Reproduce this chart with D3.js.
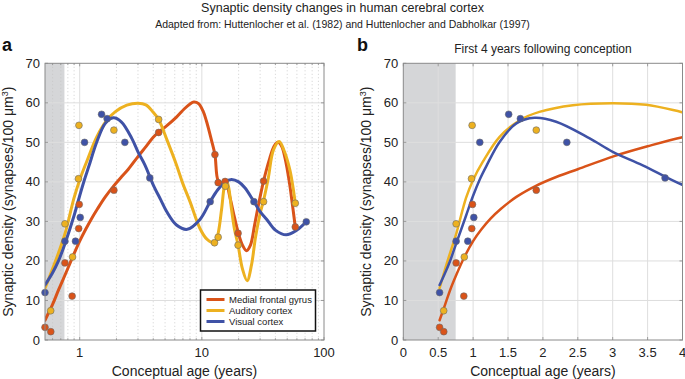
<!DOCTYPE html>
<html>
<head>
<meta charset="utf-8">
<script src="https://cdn.jsdelivr.net/npm/d3@7"></script>
<style>
  body { margin: 0; background: #fff; }
  svg { font-family: "Liberation Sans", Arial, Helvetica, sans-serif; }
</style>
</head>
<body>
<svg id="chart" width="685" height="379"></svg>
<script>
// ---- data ----
const seriesNames = ["Medial frontal gyrus", "Auditory cortex", "Visual cortex"];

// measured samples (age in years since conception, synapses / 100 um^3)
const frontalAge = [0.52, 0.58, 0.757, 0.867, 0.981, 0.991, 1.905, 4.43, 12.8, 13.6, 15.5, 19.8, 32.0, 58.2];
const frontalDensity = [3.2, 2.1, 19.5, 11.1, 28.2, 34.3, 37.9, 52.5, 46.9, 39.8, 40.1, 27.0, 40.2, 28.6];

const auditoryAge = [0.579, 0.757, 0.874, 0.977, 0.986, 1.905, 4.43, 12.7, 13.6, 15.6, 19.8, 32.0, 58.2];
const auditoryDensity = [7.4, 29.4, 21.0, 40.8, 54.3, 53.1, 55.8, 24.6, 26.0, 38.9, 24.0, 35.0, 34.6];

const visualAge = [0.52, 0.757, 0.924, 1.01, 1.096, 1.51, 1.677, 2.343, 3.75, 11.7, 26.7, 71.6];
const visualDensity = [12.0, 25.0, 25.0, 31.0, 50.0, 57.1, 56.0, 50.0, 41.0, 35.0, 35.0, 29.9];

// smoothing-spline fits, sampled by eye along each curve
const frontalFitAge = [0.52, 0.6, 0.67, 0.76, 0.87, 1.0, 1.12, 1.25, 1.4, 1.62, 1.9, 2.2, 2.5, 3.0, 3.5, 4.0, 4.43, 5.2, 6.2, 7.2, 8.0, 8.6, 9.4, 10.2, 10.9, 12.0, 12.8, 13.6, 14.5, 15.6, 17, 18.5, 20, 21.5, 23.2, 25, 27, 29, 32, 36, 39, 42, 45, 48, 52, 55, 58.2];
const frontalFitDensity = [5.0, 9.0, 12.6, 16.5, 20.8, 25.0, 28.0, 30.7, 33.2, 36.2, 39.0, 41.3, 43.2, 46.4, 49.0, 51.3, 52.6, 54.3, 56.4, 58.5, 59.7, 60.2, 59.8, 58.0, 55.4, 50.5, 46.9, 40.3, 39.8, 40.2, 36, 31, 26.8, 24, 22.6, 24, 29, 34, 40.2, 46, 49, 50, 49, 46, 40, 34.5, 28.6];

const auditoryFitAge = [0.52, 0.6, 0.67, 0.76, 0.9, 1.0, 1.14, 1.38, 1.67, 1.95, 2.43, 3.0, 3.48, 3.98, 4.43, 5.2, 6.2, 7.0, 8.0, 9.65, 11.0, 12.8, 13.6, 14.5, 15.3, 15.9, 16.6, 17.5, 18.5, 19.8, 21.5, 23.5, 25.5, 27.5, 30, 32, 35, 38.5, 43, 47, 52.6, 55.5, 58.2];
const auditoryFitDensity = [13.1, 18.0, 22.0, 27.0, 36.0, 40.5, 45.1, 51.4, 55.6, 57.7, 59.4, 59.9, 59.5, 57.7, 55.8, 50.5, 44.3, 39.5, 35.0, 28.2, 25.5, 24.5, 27, 33, 39, 40.4, 38.5, 33, 28, 24, 18, 15, 19, 26, 32, 35.3, 41, 48, 50.2, 48, 43, 39, 34.6];

const visualFitAge = [0.52, 0.6, 0.67, 0.76, 0.9, 1.0, 1.1, 1.19, 1.38, 1.62, 1.88, 2.19, 2.67, 3.0, 3.43, 3.98, 4.6, 5.15, 6.2, 7.6, 9.65, 11.7, 13.5, 15.5, 17.5, 20, 22.5, 26.7, 30, 34, 40, 49, 60, 71.6];
const visualFitDensity = [13.9, 17.0, 20.0, 24.5, 31.5, 36.5, 40.8, 44.0, 50.1, 54.8, 56.2, 55.2, 51.0, 47.6, 44.2, 39.4, 35.5, 32.5, 29.1, 28.0, 30.5, 35.0, 38.0, 40.0, 40.6, 40.0, 38.5, 35.0, 32.5, 30.5, 27.8, 26.6, 27.8, 29.9];

const yTicks = [0, 10, 20, 30, 40, 50, 60, 70];
const xTicksA = [1, 10, 100];
const xTicksB = [0, 0.5, 1, 1.5, 2, 2.5, 3, 3.5, 4];
const birthAge = 0.75;   // shaded prenatal period ends here

const colors = ["#d95319", "#edb120", "#3f52a6"];

const series = [
    { name: seriesNames[0], color: colors[0], age: frontalAge, dens: frontalDensity, fitAge: frontalFitAge, fitDens: frontalFitDensity },
    { name: seriesNames[1], color: colors[1], age: auditoryAge, dens: auditoryDensity, fitAge: auditoryFitAge, fitDens: auditoryFitDensity },
    { name: seriesNames[2], color: colors[2], age: visualAge, dens: visualDensity, fitAge: visualFitAge, fitDens: visualFitDensity }
];

const svg = d3.select("#chart");
const axisColor = "#8a8a8a", textColor = "#222";

// header
svg.append("text").attr("x", 342.5).attr("y", 12).attr("text-anchor", "middle")
    .attr("font-size", 12.5).attr("fill", textColor)
    .text("Synaptic density changes in human cerebral cortex");
svg.append("text").attr("x", 342.5).attr("y", 27.5).attr("text-anchor", "middle")
    .attr("font-size", 10.5).attr("fill", textColor)
    .text("Adapted from: Huttenlocher et al. (1982) and Huttenlocher and Dabholkar (1997)");

const plotTop = 63.3, plotBottom = 340;
const y = d3.scaleLinear().domain([0, 70]).range([plotBottom, plotTop]);

function drawPanel(id, x, opt) {
    const g = svg.append("g");
    const [x0, x1] = x.range();

    g.append("clipPath").attr("id", "clip" + id)
        .append("rect").attr("x", x0).attr("y", plotTop).attr("width", x1 - x0).attr("height", plotBottom - plotTop);

    // prenatal shading
    g.append("rect")
        .attr("x", x0).attr("y", plotTop)
        .attr("width", x(birthAge) - x0).attr("height", plotBottom - plotTop)
        .attr("fill", "#d5d6d8");

    // grid
    if (opt.minor) {
        g.selectAll(".minor").data(opt.minor).enter().append("line")
            .attr("x1", d => x(d)).attr("x2", d => x(d))
            .attr("y1", plotTop).attr("y2", plotBottom)
            .attr("stroke", "#c4c4c4").attr("stroke-width", 0.8).attr("stroke-dasharray", "1,2.5");
    }
    g.selectAll(".vgrid").data(opt.xTicks.filter(d => x(d) > x0 + 1 && x(d) < x1 - 1)).enter().append("line")
        .attr("x1", d => x(d)).attr("x2", d => x(d))
        .attr("y1", plotTop).attr("y2", plotBottom)
        .attr("stroke", "#dedede").attr("stroke-width", 1);
    g.selectAll(".hgrid").data(yTicks.slice(1, -1)).enter().append("line")
        .attr("x1", x0).attr("x2", x1)
        .attr("y1", d => y(d)).attr("y2", d => y(d))
        .attr("stroke", "#dedede").attr("stroke-width", 1);

    // fitted curves
    const line = d3.line().x(d => x(d[0])).y(d => y(d[1])).curve(d3.curveCatmullRom.alpha(0.5));
    const curves = g.append("g").attr("clip-path", `url(#clip${id})`);
    series.forEach(s => {
        curves.append("path")
            .datum(d3.zip(s.fitAge, s.fitDens))
            .attr("d", line)
            .attr("fill", "none")
            .attr("stroke", s.color)
            .attr("stroke-width", opt.lw)
            .attr("stroke-linecap", "round")
            .attr("stroke-linejoin", "round");
    });

    // raw points
    series.forEach(s => {
        g.append("g").selectAll("circle")
            .data(d3.zip(s.age, s.dens).filter(d => d[0] <= x.domain()[1]))
            .enter().append("circle")
            .attr("cx", d => x(d[0])).attr("cy", d => y(d[1]))
            .attr("r", 3.4)
            .attr("fill", s.color)
            .attr("stroke", "#6a6a6a").attr("stroke-width", 0.6);
    });

    // box + inward ticks
    g.append("rect").attr("x", x0).attr("y", plotTop).attr("width", x1 - x0).attr("height", plotBottom - plotTop)
        .attr("fill", "none").attr("stroke", axisColor).attr("stroke-width", 1);

    const tickLen = 3;
    const tk = g.append("g").attr("stroke", axisColor).attr("stroke-width", 0.8);
    opt.xTicks.forEach(v => {
        tk.append("line").attr("x1", x(v)).attr("x2", x(v)).attr("y1", plotBottom).attr("y2", plotBottom - tickLen);
        tk.append("line").attr("x1", x(v)).attr("x2", x(v)).attr("y1", plotTop).attr("y2", plotTop + tickLen);
    });
    (opt.minor || []).forEach(v => {
        tk.append("line").attr("x1", x(v)).attr("x2", x(v)).attr("y1", plotBottom).attr("y2", plotBottom - 1.8);
        tk.append("line").attr("x1", x(v)).attr("x2", x(v)).attr("y1", plotTop).attr("y2", plotTop + 1.8);
    });
    yTicks.forEach(v => {
        tk.append("line").attr("x1", x0).attr("x2", x0 + tickLen).attr("y1", y(v)).attr("y2", y(v));
        tk.append("line").attr("x1", x1).attr("x2", x1 - tickLen).attr("y1", y(v)).attr("y2", y(v));
    });

    // tick labels
    g.selectAll(".ylab").data(yTicks).enter().append("text")
        .attr("x", x0 - 5).attr("y", d => y(d)).attr("dy", "0.35em")
        .attr("text-anchor", "end").attr("font-size", 13).attr("fill", textColor)
        .text(d => d);
    g.selectAll(".xlab").data(opt.xTicks).enter().append("text")
        .attr("x", d => x(d)).attr("y", 357)
        .attr("text-anchor", "middle").attr("font-size", 13).attr("fill", textColor)
        .text(opt.fmt);

    // axis titles
    g.append("text").attr("x", (x0 + x1) / 2).attr("y", 376)
        .attr("text-anchor", "middle").attr("font-size", 14).attr("fill", textColor)
        .text("Conceptual age (years)");
    const yl = g.append("text")
        .attr("transform", `translate(${opt.yLabelX},${(plotTop + plotBottom) / 2}) rotate(-90)`)
        .attr("text-anchor", "middle").attr("font-size", 14).attr("fill", textColor);
    yl.append("tspan").text("Synaptic density (synapses/100 \u03bcm");
    yl.append("tspan").attr("font-size", 9).attr("dy", -5).text("3");
    yl.append("tspan").attr("dy", 5).text(")");

    // panel letter
    g.append("text").attr("x", opt.letterX).attr("y", 51)
        .attr("font-size", 18).attr("font-weight", "bold").attr("fill", "#111")
        .text(id);
    return g;
}

// ---- panel a: log age ----
const xA = d3.scaleLog().domain([0.52, 100]).range([45, 324]);
const minorA = xA.ticks().filter(d => !xTicksA.includes(d) && d > 0.52);
const gA = drawPanel("a", xA, { xTicks: xTicksA, minor: minorA, lw: 3, fmt: d3.format("d"), yLabelX: 13, letterX: 2 });

// legend
const lg = gA.append("g").attr("transform", "translate(200.5,290)");
lg.append("rect").attr("width", 115).attr("height", 41)
    .attr("fill", "#fff").attr("stroke", "#111").attr("stroke-width", 1.5);
series.forEach((s, i) => {
    const ly = 9.5 + i * 11;
    lg.append("line").attr("x1", 6).attr("x2", 24).attr("y1", ly).attr("y2", ly)
        .attr("stroke", s.color).attr("stroke-width", 3);
    lg.append("text").attr("x", 28.5).attr("y", ly).attr("dy", "0.35em")
        .attr("font-size", 9.5).attr("fill", textColor).text(s.name);
});

// ---- panel b: first four years, linear age ----
const xB = d3.scaleLinear().domain([0, 4]).range([403.3, 682.5]);
drawPanel("b", xB, { xTicks: xTicksB, minor: null, lw: 2.5, fmt: d => d, yLabelX: 371, letterX: 357 });

svg.append("text").attr("x", 543).attr("y", 53).attr("text-anchor", "middle")
    .attr("font-size", 12).attr("fill", textColor)
    .text("First 4 years following conception");
</script>
</body>
</html>
